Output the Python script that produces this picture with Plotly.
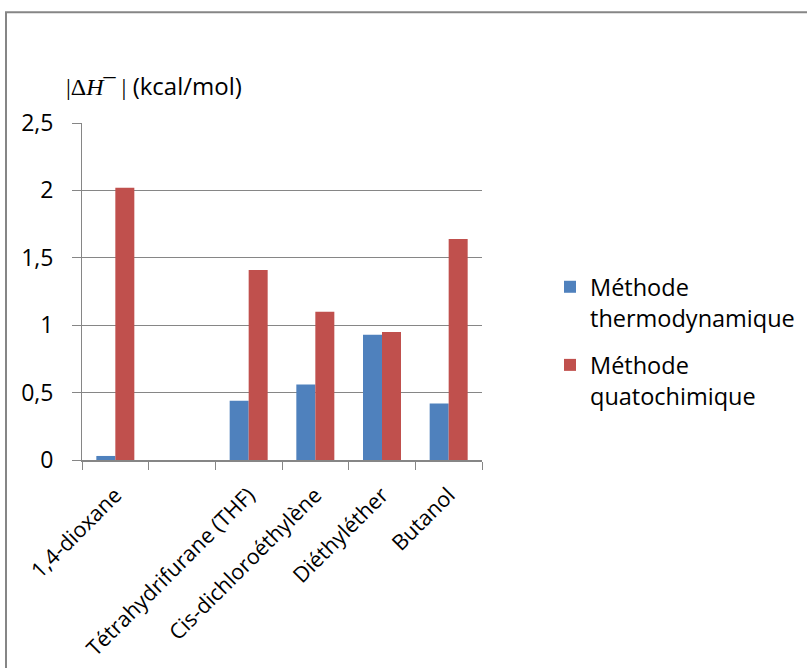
import plotly.graph_objects as go

categories = ["1,4-dioxane", "", "Tétrahydrifurane (THF)", "Cis-dichloroéthylène", "Diéthyléther", "Butanol"]
thermo = [0.03, None, 0.44, 0.56, 0.93, 0.42]
quanto = [2.02, None, 1.41, 1.10, 0.95, 1.64]
series_names = ["Méthode<br>thermodynamique", "Méthode<br>quatochimique"]
y_ticks = [0, 0.5, 1, 1.5, 2, 2.5]

xpos = list(range(len(categories)))
FONT = "Open Sans"
GRID = "#868686"

fig = go.Figure()
fig.add_trace(go.Bar(x=xpos, y=thermo, name=series_names[0], legendgroup="a",
                     marker=dict(color="#4F81BD", line=dict(width=0))))
fig.add_trace(go.Bar(x=xpos, y=quanto, name=series_names[1], legendgroup="b",
                     marker=dict(color="#C0504D", line=dict(width=0))))

W, H = 807, 668
L, R, T, B = 82, 482, 122.7, 459.7
fig.update_layout(
    width=W, height=H,
    margin=dict(l=L, r=W - R, t=T, b=H - B, pad=0, autoexpand=False),
    paper_bgcolor="white", plot_bgcolor="white",
    separators=", ",
    barmode="group", bargap=0.43, bargroupgap=0,
    font=dict(family=FONT, color="black", size=18),
    legend=dict(xref="container", yref="container",
                x=550 / W, y=1 - 265 / H, xanchor="left", yanchor="top",
                font=dict(size=23.5, family=FONT), itemsizing="constant", tracegroupgap=14,
                traceorder="grouped", valign="top",
                bgcolor="rgba(0,0,0,0)"),
    showlegend=True,
)
fig.update_xaxes(
    range=[-0.5, len(categories) - 0.5],
    tickmode="array", tickvals=xpos, ticktext=categories, tickangle=-45,
    ticks="", showgrid=False, showline=True, linecolor=GRID, linewidth=2,
    tickfont=dict(size=21.5, family=FONT), ticklabelstandoff=12, automargin=False,
    minor=dict(tickmode="array", tickvals=[i - 0.5 for i in range(len(categories) + 1)],
               ticks="outside", ticklen=8, tickcolor=GRID, tickwidth=1, showgrid=False),
    zeroline=False,
)
fig.update_yaxes(
    range=[0, 2.5], tickmode="array", tickvals=y_ticks,
    ticktext=[str(v).replace(".", ",") if v != int(v) else str(int(v)) for v in y_ticks],
    showgrid=True, gridcolor=GRID, gridwidth=1,
    showline=True, linecolor=GRID, linewidth=1, automargin=False,
    ticks="outside", ticklen=9, tickcolor=GRID, ticklabelstandoff=14,
    tickfont=dict(size=23, family=FONT), zeroline=False,
)
fig.add_annotation(
    xref="paper", yref="paper", x=(64 - L) / (R - L), y=(B - 85) / (B - T),
    xanchor="left", yanchor="middle", showarrow=False,
    text="<span style='font-family:Liberation Serif'>|Δ<i>H</i>¯ |</span> (kcal/mol)",
    font=dict(size=24, family=FONT),
)
# outer chart-area frame
fig.add_shape(type="rect", xref="paper", yref="paper",
              x0=(6 - L) / (R - L), x1=(830 - L) / (R - L),
              y0=(B - 700) / (B - T), y1=(B - 12) / (B - T),
              line=dict(color=GRID, width=2), fillcolor="rgba(0,0,0,0)", layer="below")

fig.write_html("out.html")
